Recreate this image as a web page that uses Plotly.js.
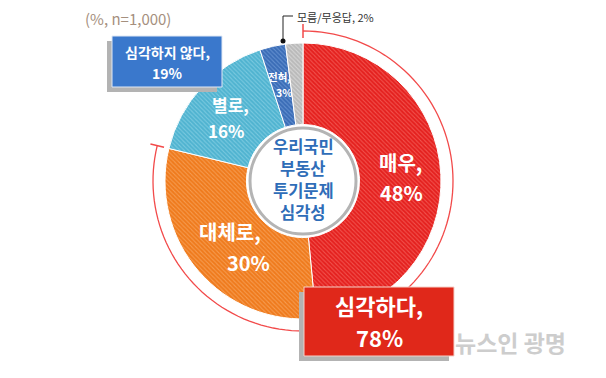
<!DOCTYPE html>
<html><head><meta charset="utf-8">
<script src="https://cdn.plot.ly/plotly-3.0.1.min.js"></script>
<style>html,body{margin:0;padding:0;background:#fff}</style>
</head><body>
<div id="chart" style="width:606px;height:378px"></div>
<script>
const labels = ['매우', '대체로', '별로', '전혀', '모름/무응답'];
const values = [48, 30, 16, 3, 2];
const sliceColors = ['#e4201e', '#ef7a1c', '#4fb3d0', '#3a6cb6', '#b9b9b9'];
const stripeColors = ['#f2534e', '#f69c50', '#7bcae0', '#6390d0', '#d6d6d6'];
const groupLabels = ['심각하다', '심각하지 않다'];
const groupValues = [78, 19];
const centerTitle = ['우리국민', '부동산', '투기문제', '심각성'];
const noteText = '(%, n=1,000)';

const W = 606, H = 378;
const px = x => x / W, py = y => 1 - y / H;
const CX = 303, CY = 181, R = 138;
const F = '"Noto Sans CJK KR", "Noto Sans", sans-serif';

const total = values.reduce((a, b) => a + b, 0);

const arcFrac = (values[0] + values[1]) / total;
function polar(r, frac) {
  const a = frac * 2 * Math.PI;
  return [CX + r * Math.sin(a), CY - r * Math.cos(a)];
}
let arcPath = '';
const N = 120, RA = 150;
for (let i = 0; i <= N; i++) {
  const [x, y] = polar(RA, arcFrac * i / N);
  arcPath += (i === 0 ? 'M' : 'L') + px(x).toFixed(5) + ',' + py(y).toFixed(5) + ' ';
}
function tick(frac) {
  const [x1, y1] = polar(143, frac), [x2, y2] = polar(157, frac);
  return 'M' + px(x1) + ',' + py(y1) + ' L' + px(x2) + ',' + py(y2);
}

const trace = {
  type: 'pie',
  labels: labels,
  values: values,
  sort: false,
  direction: 'clockwise',
  rotation: 0,
  hole: 0.41,
  textinfo: 'none',
  hoverinfo: 'label+value',
  domain: {x: [px(CX - R), px(CX + R)], y: [py(CY + R), py(CY - R)]},
  marker: {
    colors: sliceColors,
    line: {color: '#ffffff', width: 1},
    pattern: {shape: '\\', fgcolor: stripeColors, bgcolor: sliceColors, size: 3, solidity: 0.35, fillmode: 'replace'}
  },
  showlegend: false
};

function rect(x0, y0, x1, y1, fill, line) {
  return {type: 'rect', xref: 'paper', yref: 'paper', x0: px(x0), x1: px(x1), y0: py(y1), y1: py(y0),
    fillcolor: fill, line: line || {width: 0}};
}

const shapes = [
  {type: 'path', xref: 'paper', yref: 'paper', path: arcPath, line: {color: '#f24a4a', width: 1.3}},
  {type: 'path', xref: 'paper', yref: 'paper', path: tick(0), line: {color: '#f24a4a', width: 1.5}},
  {type: 'path', xref: 'paper', yref: 'paper', path: tick(arcFrac), line: {color: '#f24a4a', width: 1.5}},
  {type: 'circle', xref: 'paper', yref: 'paper', x0: px(CX - 53), x1: px(CX + 53), y0: py(CY + 53), y1: py(CY - 53),
    fillcolor: '#ffffff', line: {color: '#b4b4b4', width: 3}},
  {type: 'path', xref: 'paper', yref: 'paper', path: 'M' + px(283) + ',' + py(41) + ' L' + px(283) + ',' + py(16) + ' L' + px(293) + ',' + py(16),
    line: {color: '#222', width: 1}},
  {type: 'circle', xref: 'paper', yref: 'paper', x0: px(280.5), x1: px(285.5), y0: py(43.5), y1: py(38.5),
    fillcolor: '#111', line: {width: 0}},
  rect(107, 41, 217, 92, '#b3b3b3'),
  rect(112, 36, 222, 87, '#3a78cc', {color: '#dfe8f5', width: 1}),
  rect(299, 292, 449, 361, '#b3b3b3'),
  rect(304, 287, 454, 356, '#e0281a', {color: '#f5d0c8', width: 1})
];

function ann(x, y, text, size, color, extra) {
  return Object.assign({xref: 'paper', yref: 'paper', x: px(x), y: py(y), text: text, showarrow: false,
    xanchor: 'center', yanchor: 'middle', align: 'center',
    font: {family: F, size: size, color: color}}, extra || {});
}

const annotations = [
  ann(128, 18, noteText, 15, '#a58f7e'),
  ann(400, 162, '<b>' + labels[0] + ',</b>', 20, '#ffffff'),
  ann(401, 192, '<b>' + values[0] + '%</b>', 20, '#ffffff'),
  ann(230, 231, '<b>' + labels[1] + ',</b>', 20, '#ffffff'),
  ann(249, 262, '<b>' + values[1] + '%</b>', 20, '#ffffff'),
  ann(230, 104, '<b>' + labels[2] + ',</b>', 17, '#ffffff'),
  ann(226, 130, '<b>' + values[2] + '%</b>', 17, '#ffffff'),
  ann(279, 76, '<b>' + labels[3] + ',</b>', 10.5, '#ffffff'),
  ann(284, 92, '<b>' + values[3] + '%</b>', 10.5, '#ffffff'),
  ann(295, 17, labels[4] + ', ' + values[4] + '%', 11, '#333333', {xanchor: 'left'}),
  ann(167, 52, '<b>' + groupLabels[1] + ',</b>', 14, '#ffffff'),
  ann(167, 73, '<b>' + groupValues[1] + '%</b>', 14, '#ffffff'),
  ann(379, 305, '<b>' + groupLabels[0] + ',</b>', 22, '#ffffff'),
  ann(379, 337, '<b>' + groupValues[0] + '%</b>', 22, '#ffffff'),
  ann(510, 342, '<b>뉴스인 광명</b>', 23, '#cdcdcd')
];
centerTitle.forEach((t, i) => annotations.push(ann(303, 146 + i * 22, '<b>' + t + '</b>', 16.5, '#2f6db8')));

const layout = {
  width: W, height: H,
  margin: {l: 0, r: 0, t: 0, b: 0},
  paper_bgcolor: '#ffffff',
  plot_bgcolor: '#ffffff',
  showlegend: false,
  shapes: shapes,
  annotations: annotations
};

Plotly.newPlot('chart', [trace], layout, {displayModeBar: false, staticPlot: true});
</script>
</body></html>
